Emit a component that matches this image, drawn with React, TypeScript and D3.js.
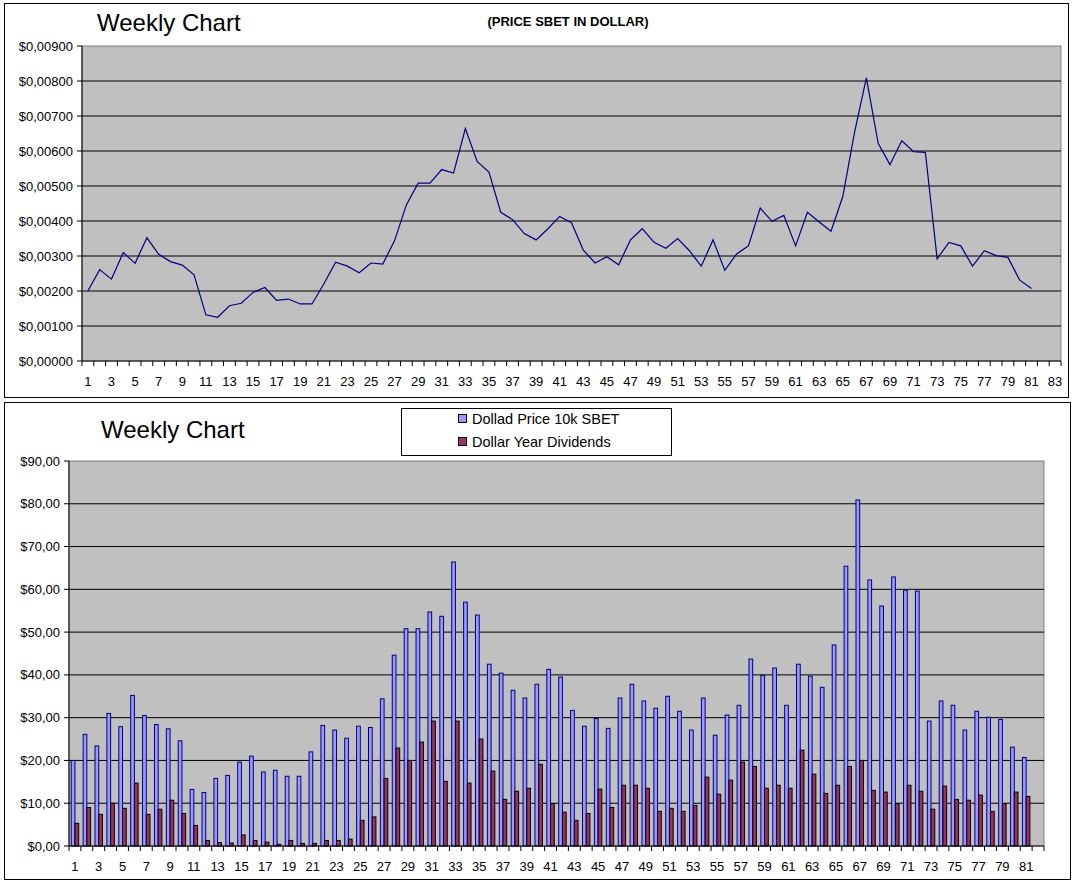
import * as d3 from "d3";

const W = 1078;
const H = 884;
const FONT = "'Liberation Sans', Arial, sans-serif";

// weekly price of SBET in dollar (top chart)
const priceSbet = [
  0.002, 0.00261, 0.00234, 0.0031, 0.00279, 0.00352, 0.00305, 0.00284, 0.00274, 0.00246,
  0.00132, 0.00125, 0.00158, 0.00165, 0.00196, 0.0021, 0.00173, 0.00177, 0.00163, 0.00163,
  0.0022, 0.00282, 0.00271, 0.00252, 0.0028, 0.00277, 0.00344, 0.00446, 0.00508, 0.00508,
  0.00547, 0.00537, 0.00664, 0.0057, 0.0054, 0.00425, 0.00404, 0.00364, 0.00346, 0.00378,
  0.00413, 0.00395, 0.00317, 0.0028, 0.00298, 0.00275, 0.00346, 0.00378, 0.00339, 0.00322,
  0.0035, 0.00315, 0.00271, 0.00346, 0.00259, 0.00306, 0.00329, 0.00437, 0.00399, 0.00416,
  0.00329, 0.00425, 0.00397, 0.00371, 0.0047, 0.00654, 0.00809, 0.00622, 0.00561, 0.00629,
  0.00598, 0.00596, 0.00292, 0.00339, 0.00329, 0.00271, 0.00315, 0.00301, 0.00296, 0.00231,
  0.00207,
];

// dollar price of 10k SBET (bottom chart, blue bars)
const price10k = [
  20.0, 26.1, 23.4, 31.0, 27.9, 35.2, 30.5, 28.4, 27.4, 24.6,
  13.2, 12.5, 15.8, 16.5, 19.6, 21.0, 17.3, 17.7, 16.3, 16.3,
  22.0, 28.2, 27.1, 25.2, 28.0, 27.7, 34.4, 44.6, 50.8, 50.8,
  54.7, 53.7, 66.4, 57.0, 54.0, 42.5, 40.4, 36.4, 34.6, 37.8,
  41.3, 39.5, 31.7, 28.0, 29.8, 27.5, 34.6, 37.8, 33.9, 32.2,
  35.0, 31.5, 27.1, 34.6, 25.9, 30.6, 32.9, 43.7, 39.9, 41.6,
  32.9, 42.5, 39.7, 37.1, 47.0, 65.4, 80.9, 62.2, 56.1, 62.9,
  59.8, 59.6, 29.2, 33.9, 32.9, 27.1, 31.5, 30.1, 29.6, 23.1,
  20.7,
];

// dollar year dividends (bottom chart, maroon bars)
const dividends = [
  5.3, 9.0, 7.4, 10.0, 8.8, 14.7, 7.4, 8.6, 10.7, 7.6,
  4.8, 1.3, 0.8, 0.7, 2.6, 1.3, 0.9, 0.4, 1.3, 0.6,
  0.6, 1.3, 1.3, 1.6, 6.0, 6.8, 15.8, 22.9, 20.0, 24.3,
  29.2, 15.1, 29.2, 14.7, 25.0, 17.5, 10.9, 12.8, 13.5, 19.1,
  9.9, 7.9, 6.0, 7.6, 13.3, 9.0, 14.2, 14.2, 13.5, 8.1,
  8.8, 8.1, 9.5, 16.1, 12.1, 15.4, 19.6, 18.6, 13.5, 14.2,
  13.5, 22.4, 16.8, 12.3, 14.2, 18.6, 20.0, 13.0, 12.6, 9.9,
  14.2, 12.8, 8.6, 14.0, 10.9, 10.7, 11.9, 8.1, 9.9, 12.6,
  11.6,
];

const seriesNames = ["Dollad Price 10k SBET", "Dollar Year Dividends"];
const seriesFill = ["#9999FF", "#993366"];
const seriesStroke = ["#000080", "#000000"];

const topCategoryCount = 83;
const bottomCategoryCount = 82;
const topYTicks = [0, 0.001, 0.002, 0.003, 0.004, 0.005, 0.006, 0.007, 0.008, 0.009];
const bottomYTicks = [0, 10, 20, 30, 40, 50, 60, 70, 80, 90];

const loc = d3.formatLocale({ decimal: ",", thousands: ".", grouping: [3], currency: ["$", ""] });
const fmtTop = loc.format("$.5f");
const fmtBottom = loc.format("$.2f");

const topPlot = { left: 82, right: 1061, top: 46, bottom: 361 };
const botPlot = { left: 69, right: 1044, top: 461, bottom: 846 };

function CategoryAxis({ x, count, plot }: any) {
  const step = x.step();
  const cats = d3.range(1, count + 1);
  return (
    <g>
      <line x1={plot.left} x2={plot.right} y1={plot.bottom} y2={plot.bottom} stroke="#000" />
      {cats.map((c) => (
        <line key={"t" + c} x1={x(c)} x2={x(c)} y1={plot.bottom} y2={plot.bottom + 5} stroke="#000" />
      ))}
      <line x1={plot.right} x2={plot.right} y1={plot.bottom} y2={plot.bottom + 5} stroke="#000" />
      {cats
        .filter((c) => c % 2 === 1)
        .map((c) => (
          <text key={"l" + c} x={x(c) + step / 2} y={plot.bottom + 25} textAnchor="middle" fontSize={13} fontFamily={FONT} fill="#000">
            {c}
          </text>
        ))}
    </g>
  );
}

function ValueAxis({ y, ticks, fmt, plot }: any) {
  return (
    <g>
      {ticks.map((t: number) => (
        <g key={t}>
          {t > 0 && t < ticks[ticks.length - 1] && (
            <line x1={plot.left} x2={plot.right} y1={y(t)} y2={y(t)} stroke="#000" />
          )}
          <line x1={plot.left - 5} x2={plot.left} y1={y(t)} y2={y(t)} stroke="#000" />
          <text x={plot.left - 9} y={y(t) + 4.5} textAnchor="end" fontSize={13} fontFamily={FONT} fill="#000">
            {fmt(t)}
          </text>
        </g>
      ))}
      <line x1={plot.left} x2={plot.left} y1={plot.top} y2={plot.bottom} stroke="#000" />
    </g>
  );
}

function TopChart() {
  const plot = topPlot;
  const x = d3.scaleBand<number>().domain(d3.range(1, topCategoryCount + 1)).range([plot.left, plot.right]).padding(0);
  const y = d3.scaleLinear().domain([0, 0.009]).range([plot.bottom, plot.top]);
  const line = d3
    .line<number>()
    .x((_, i) => (x(i + 1) as number) + x.bandwidth() / 2)
    .y((d) => y(d));
  return (
    <g>
      <rect x={4.5} y={3.5} width={1064} height={394} fill="#fff" stroke="#000" />
      <text x={97} y={31} fontSize={24} fontFamily={FONT} fill="#000">Weekly Chart</text>
      <text x={568} y={26} fontSize={13} fontWeight="bold" textAnchor="middle" fontFamily={FONT} fill="#000">
        (PRICE SBET IN DOLLAR)
      </text>
      <rect x={plot.left} y={plot.top} width={plot.right - plot.left} height={plot.bottom - plot.top} fill="#C0C0C0" stroke="#808080" />
      <ValueAxis y={y} ticks={topYTicks} fmt={fmtTop} plot={plot} />
      <CategoryAxis x={x} count={topCategoryCount} plot={plot} />
      <path d={line(priceSbet) as string} fill="none" stroke="#000080" strokeWidth={1.2} />
    </g>
  );
}

function BottomChart() {
  const plot = botPlot;
  const x = d3.scaleBand<number>().domain(d3.range(1, bottomCategoryCount + 1)).range([plot.left, plot.right]).padding(0);
  const xs = d3.scaleBand<number>().domain([0, 1]).range([0, x.step()]).paddingInner(0).paddingOuter(0.6);
  const y = d3.scaleLinear().domain([0, 90]).range([plot.bottom, plot.top]);
  const series = [price10k, dividends];
  return (
    <g>
      <rect x={4.5} y={402.5} width={1066} height={477} fill="#fff" stroke="#000" />
      <text x={101} y={438} fontSize={24} fontFamily={FONT} fill="#000">Weekly Chart</text>
      <rect x={plot.left} y={plot.top} width={plot.right - plot.left} height={plot.bottom - plot.top} fill="#C0C0C0" stroke="#808080" />
      <ValueAxis y={y} ticks={bottomYTicks} fmt={fmtBottom} plot={plot} />
      {series.map((vals, s) => (
        <g key={s}>
          {vals.map((v, i) => (
            <rect
              key={i}
              x={(x(i + 1) as number) + (xs(s) as number)}
              y={y(v)}
              width={xs.bandwidth()}
              height={y(0) - y(v)}
              fill={seriesFill[s]}
              stroke={seriesStroke[s]}
              strokeWidth={1}
            />
          ))}
        </g>
      ))}
      <CategoryAxis x={x} count={bottomCategoryCount} plot={plot} />
      <g>
        <rect x={401.5} y={408.5} width={270} height={47} fill="#fff" stroke="#000" />
        {seriesNames.map((name, s) => (
          <g key={name}>
            <rect x={458.5} y={414.5 + s * 23} width={8} height={8} fill={seriesFill[s]} stroke="#000" />
            <text x={472} y={424 + s * 23} fontSize={14.5} fontFamily={FONT} fill="#000">
              {name}
            </text>
          </g>
        ))}
      </g>
    </g>
  );
}

export default function App() {
  return (
    <div style={{ position: "absolute", left: 0, top: 0 }}>
      <svg width={W} height={H} style={{ display: "block", background: "#fff" }}>
        <TopChart />
        <BottomChart />
      </svg>
    </div>
  );
}
